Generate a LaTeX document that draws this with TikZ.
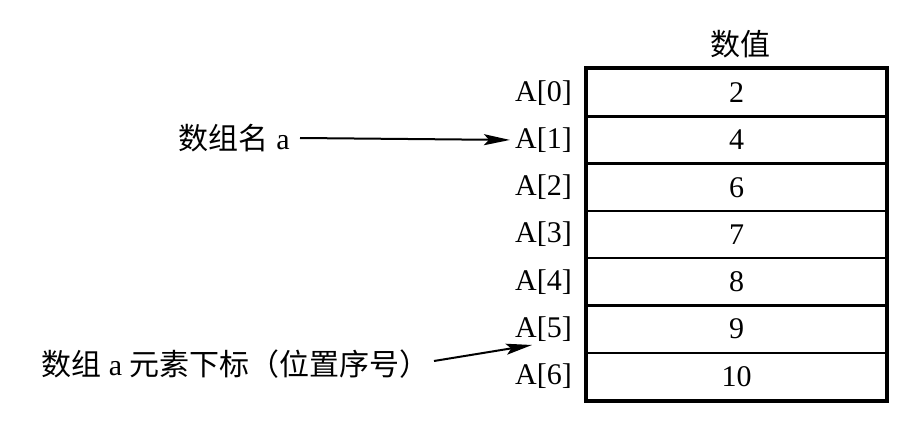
\documentclass[tikz,border=0pt]{standalone}
\usepackage{fontspec}
\setmainfont{Liberation Serif}
\newfontfamily\cjk{Noto Sans CJK SC}
\usetikzlibrary{arrows.meta}
\begin{document}
\begin{tikzpicture}[x=1pt,y=-1pt,
  txt/.style={inner sep=0pt,font=\fontsize{30}{34}\selectfont},
  cell/.style={draw,line width=2.5pt,minimum width=299pt,minimum height=47.3pt,inner sep=0pt,font=\fontsize{30}{34}\selectfont},
  arr/.style={line width=2pt,-{Stealth[length=26pt,width=11pt,inset=5pt]}}]
\useasboundingbox (0,0) rectangle (911,422);
% table rows
\foreach \v [count=\i from 0] in {2,4,6,7,8,9,10} {
  \node[cell] (r\i) at (736.5,{69+47.3*(\i+0.5)}) {\v};
  \node[txt,anchor=east] (a\i) at (572,{69+47.3*(\i+0.5)}) {A[\i]};
}
\draw[line width=3pt] (r0.north west) rectangle (r6.south east);
\node[txt,font=\fontsize{30}{34}\selectfont\cjk] (head) at (740,44) {数值};
% labels
\node[txt,anchor=east] (name) at (290,138) {{\cjk 数组名} a};
\draw[arr] ([xshift=10pt]name.east) -- ([xshift=-5pt]a1.west);
\node[txt,anchor=east] (idx) at (430,364) {{\cjk 数组} a {\cjk 元素下标（位置序号）}};
\coordinate (tip) at (532,345);
\draw[arr] ([xshift=4pt,yshift=3pt]idx.east) -- (tip);
\end{tikzpicture}
\end{document}
